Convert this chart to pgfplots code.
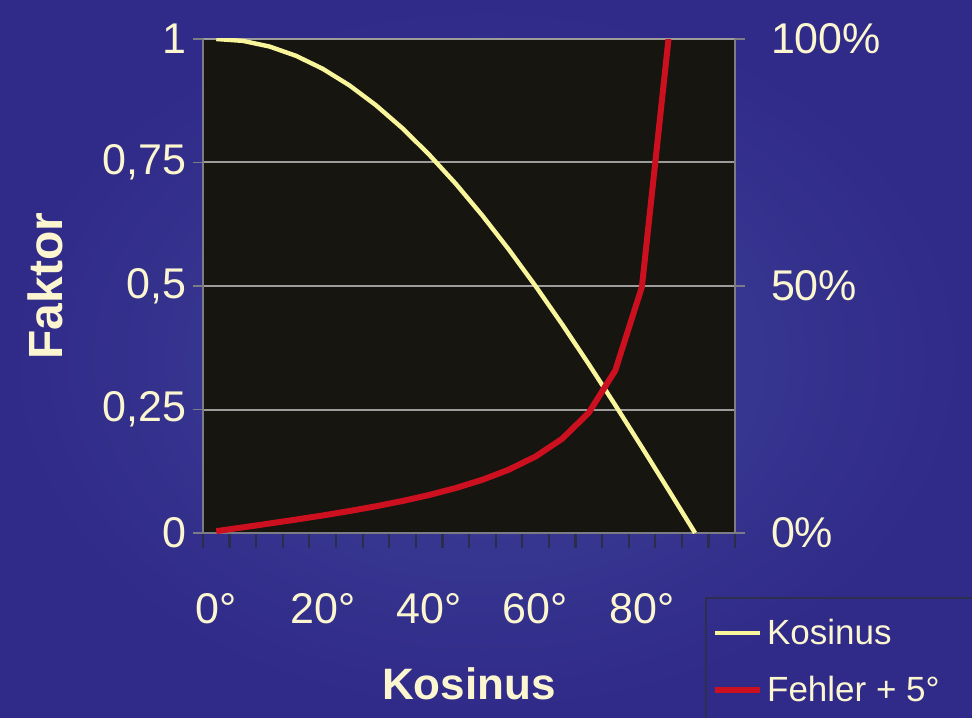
\documentclass[border=0pt]{standalone}
\usepackage{pgfplots}
\pgfplotsset{compat=1.18}
\usepackage{fontspec}
\setmainfont{Liberation Sans}

\definecolor{bgouter}{HTML}{302A88}
\definecolor{bginner}{HTML}{3D4399}
\definecolor{plotbg}{HTML}{161510}
\definecolor{cream}{HTML}{FBF6D0}
\definecolor{coslin}{HTML}{F8F59A}
\definecolor{errlin}{HTML}{CC1020}
\definecolor{spine}{HTML}{7C7C84}
\definecolor{gridc}{HTML}{9C9C9C}
\definecolor{tickb}{HTML}{2C2C4E}
\definecolor{legbox}{HTML}{2E2E50}

\newcommand{\tickfont}{\fontsize{21.5bp}{24bp}\selectfont}

\pgfplotsset{
  base/.style={
    scale only axis,
    width=266bp, height=247bp,
    at={(0,0)}, anchor=south west,
    xmin=-2.5, xmax=97.5,
    ymin=0, ymax=1,
    tick align=outside,
    major tick length=5bp,
    tick style={draw=spine, line width=0.8bp},
    axis line style={draw=spine, line width=0.9bp},
    ticklabel style={font=\tickfont, text=cream},
  },
}

\begin{document}
\begin{tikzpicture}
\shade[inner color=bginner, outer color=bgouter]
  (-101.5bp,-92.5bp) rectangle (384.5bp,266.5bp);
\useasboundingbox (-101.5bp,-92.5bp) rectangle (384.5bp,266.5bp);

\begin{axis}[
    base,
    axis y line*=left,
    axis x line*=bottom,
    axis background/.style={fill=plotbg},
    xtick={0,20,40,60,80},
    xticklabels={0°,20°,40°,60°,80°},
    major x tick style={draw=none},
    minor xtick={-2.5,2.5,...,97.5},
    minor tick length=7.5bp,
    minor x tick style={draw=tickb, line width=1.1bp},
    xticklabel style={anchor=base, yshift=-40bp},
    ytick={0,0.25,0.5,0.75,1},
    yticklabels={0,{0,25},{0,5},{0,75},1},
    ymajorgrids,
    grid style={draw=gridc, line width=1bp},
    xlabel={\textbf{Kosinus}},
    xlabel style={at={(axis description cs:0.5,-0.338)}, anchor=base,
      font=\fontsize{22bp}{26bp}\selectfont, text=cream},
    ylabel={\textbf{Faktor}},
    ylabel style={at={(axis description cs:-0.265,0.5)}, anchor=base,
      rotate=0, font=\fontsize{24bp}{28bp}\selectfont, text=cream},
]
\addplot[coslin, line width=2.2bp, line join=round] coordinates {
  (0,1) (5,0.9962) (10,0.9848) (15,0.9659) (20,0.9397) (25,0.9063)
  (30,0.8660) (35,0.8192) (40,0.7660) (45,0.7071) (50,0.6428)
  (55,0.5736) (60,0.5) (65,0.4226) (70,0.3420) (75,0.2588)
  (80,0.1736) (85,0.0872) (90,0)
};
\end{axis}

\begin{axis}[
    base,
    axis y line*=right,
    axis x line=none,
    ytick={0,0.5,1},
    yticklabels={0\%,50\%,100\%},
    yticklabel style={xshift=9.5bp},
    legend style={
      at={(axis description cs:0.944,-0.1296)}, anchor=north west,
      draw=legbox, line width=0.9bp, fill=none, text=cream,
      font=\fontsize{17.5bp}{20bp}\selectfont,
      inner xsep=3bp, inner ysep=8.5bp, row sep=10.5bp,
      nodes={inner xsep=2bp},
    },
    legend cell align=left,
    legend image code/.code={\draw[#1] (0bp,0bp) -- (22.5bp,0bp);},
]
\addlegendimage{coslin, line width=2.2bp}
\addlegendentry{\makebox[110bp][l]{Kosinus}}
\addplot[errlin, line width=3bp, line join=round] coordinates {
  (0,0.0038) (5,0.0114) (10,0.0192) (15,0.0272) (20,0.0355)
  (25,0.0444) (30,0.0541) (35,0.0648) (40,0.0769) (45,0.0910)
  (50,0.1077) (55,0.1283) (60,0.1548) (65,0.1907) (70,0.2433)
  (75,0.3291) (80,0.4981) (85,1.0)
};
\addlegendentry{\makebox[110bp][l]{Fehler + 5°}}
\end{axis}
\end{tikzpicture}
\end{document}
